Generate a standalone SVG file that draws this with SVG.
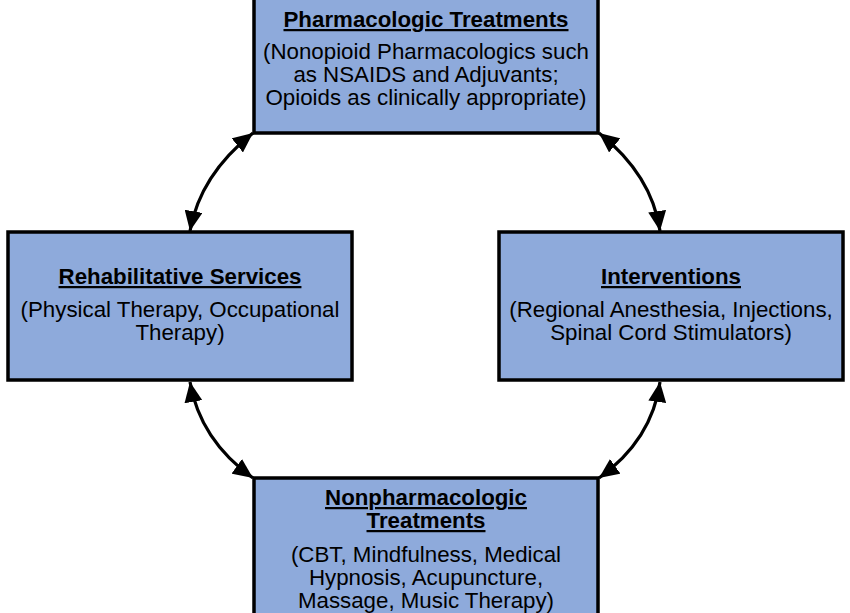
<svg xmlns="http://www.w3.org/2000/svg" width="850" height="613" viewBox="0 0 850 613">
<style>
.box{fill:#8eaadb;stroke:#000;stroke-width:3.5}
.t{font-family:"Liberation Sans",Arial,sans-serif;font-size:22.3px;fill:#000;text-anchor:middle}
.h{font-weight:bold;text-decoration:underline}
.c{fill:none;stroke:#000;stroke-width:3.2}
</style>
<defs>
<marker id="ah" markerUnits="userSpaceOnUse" markerWidth="22" markerHeight="18" viewBox="0 0 22 18" refX="20" refY="9" orient="auto-start-reverse">
<path d="M0,0 L20,9 L0,18 Z" fill="#000"/>
</marker>
</defs>
<rect x="0" y="0" width="850" height="613" fill="#fff"/>
<g id="connectors">
<path class="c" d="M253 133 Q200 175 190 231" marker-start="url(#ah)" marker-end="url(#ah)"/>
<path class="c" d="M190 382 Q200 440 253 478" marker-start="url(#ah)" marker-end="url(#ah)"/>
<path class="c" d="M599 133 Q652 175 660 231" marker-start="url(#ah)" marker-end="url(#ah)"/>
<path class="c" d="M660 382 Q652 440 599 478" marker-start="url(#ah)" marker-end="url(#ah)"/>
</g>
<g id="pharmacologic">
<rect class="box" x="254" y="-5" width="344" height="138"/>
<text class="t h" x="426" y="27">Pharmacologic Treatments</text>
<text class="t" x="426" y="59">(Nonopioid Pharmacologics such</text>
<text class="t" x="426" y="82">as NSAIDS and Adjuvants;</text>
<text class="t" x="426" y="105">Opioids as clinically appropriate)</text>
</g>
<g id="rehabilitative">
<rect class="box" x="8" y="232" width="344" height="148"/>
<text class="t h" x="180" y="284">Rehabilitative Services</text>
<text class="t" x="180" y="317">(Physical Therapy, Occupational</text>
<text class="t" x="180" y="340">Therapy)</text>
</g>
<g id="interventions">
<rect class="box" x="499" y="232" width="344" height="148"/>
<text class="t h" x="671" y="284">Interventions</text>
<text class="t" x="671" y="317">(Regional Anesthesia, Injections,</text>
<text class="t" x="671" y="340">Spinal Cord Stimulators)</text>
</g>
<g id="nonpharmacologic">
<rect class="box" x="254" y="478" width="344" height="145"/>
<text class="t h" x="426" y="505">Nonpharmacologic</text>
<text class="t h" x="426" y="528">Treatments</text>
<text class="t" x="426" y="562">(CBT, Mindfulness, Medical</text>
<text class="t" x="426" y="585">Hypnosis, Acupuncture,</text>
<text class="t" x="426" y="608">Massage, Music Therapy)</text>
</g>
</svg>
